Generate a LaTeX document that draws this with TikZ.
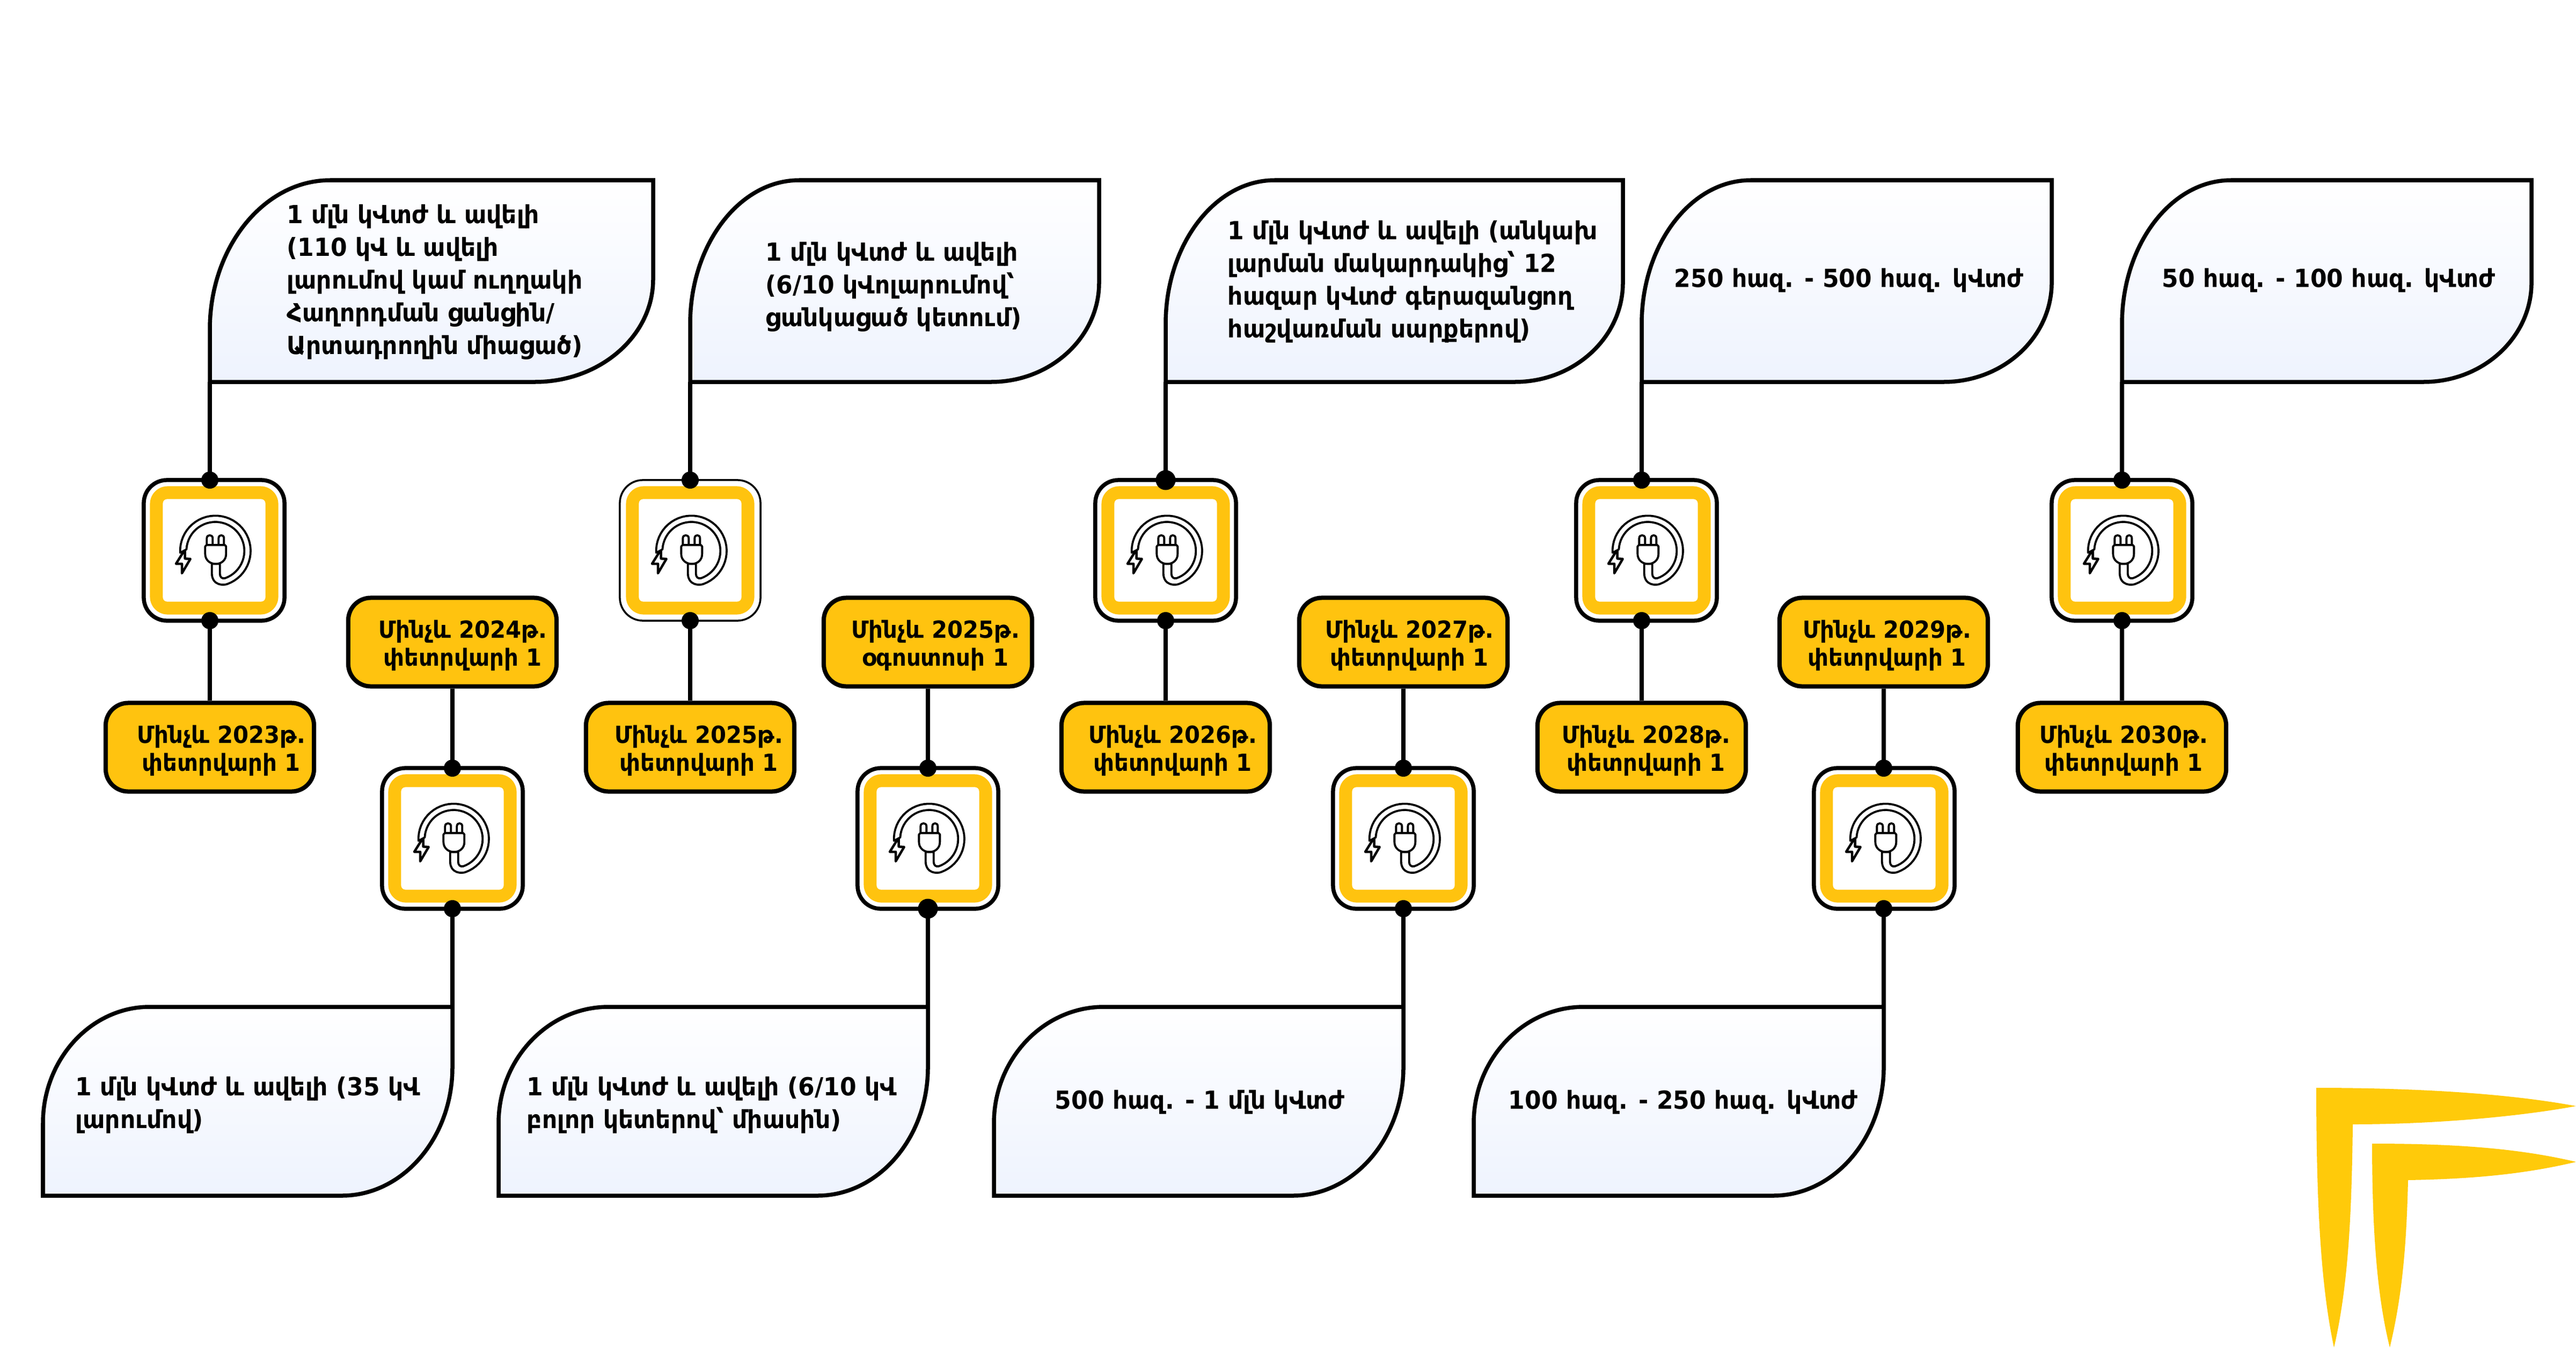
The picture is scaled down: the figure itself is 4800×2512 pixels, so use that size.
\documentclass[tikz,border=0pt]{standalone}
\usepackage{fontspec}
\setmainfont{DejaVu Sans}[FakeStretch=.95]
\usetikzlibrary{positioning}
\definecolor{cardyellow}{HTML}{FFC30F}
\definecolor{logoyellow}{HTML}{FFCA0A}
\definecolor{bubblefill}{HTML}{EEF3FE}
\tikzset{
 wire/.style={line width=.085cm},
 dotnode/.style={circle,fill=black,inner sep=0},
 cardbox/.style={draw,fill=white,rounded corners=.43cm,inner sep=0,minimum size=2.62cm},
 cardring/.style={fill=cardyellow,rounded corners=.33cm,inner sep=0,minimum size=2.39cm},
 cardhole/.style={fill=white,rounded corners=.08cm,inner sep=0,minimum size=1.91cm},
 datebox/.style={draw,line width=.08cm,fill=cardyellow,rounded corners=.42cm,inner sep=0,minimum width=3.88cm,minimum height=1.65cm},
 datetext/.style={font=\bfseries\fontsize{12.5pt}{14.75pt}\selectfont,align=center,inner sep=0},
 bubble/.style={draw,line width=.075cm,top color=white,bottom color=bubblefill},
 bubbletext/.style={font=\bfseries\fontsize{13.2pt}{17.3pt}\selectfont,align=left,anchor=base west,inner sep=0},
 iconline/.style={draw,line width=.038cm,line join=round,line cap=round},
 plugicon/.pic={
  \begin{scope}[scale=.3333]
  % cable
  \draw[iconline] plot[domain=177:430,samples=40] ({7+197*cos(\t)},{3+197*sin(\t)})
   .. controls (55,196) and (-13,200) .. (-13,125) -- (-13,76) -- (32,76) -- (32,130)
   .. controls (32,150) and (45,160) .. (60,156)
   -- plot[domain=431:183,samples=40] ({7+162*cos(\t)},{3+162*sin(\t)}) -- cycle;
  % plug
  \draw[iconline] (-42,-30) -- (60,-30) -- (67,-22) -- (67,20) .. controls (67,55) and (40,76) .. (9,76)
   .. controls (-22,76) and (-50,55) .. (-50,20) -- (-50,-22) -- cycle;
  \draw[iconline] (-41,-30) -- (-41,-68) .. controls (-41,-90) and (-8,-90) .. (-8,-68) -- (-8,-30);
  \draw[iconline] (25,-30) -- (25,-68) .. controls (25,-90) and (55,-90) .. (55,-68) -- (55,-30);
  % bolt
  \draw[iconline,line width=.045cm,fill=white] (-168,3) -- (-213,75) -- (-180,75) -- (-180,128) -- (-133,48) -- (-163,46) -- (-163,3) -- cycle;
  \end{scope}
 }
}
\begin{document}
\begin{tikzpicture}[x=.01cm,y=-.01cm,variable=\t]
 \useasboundingbox (0,0) rectangle (4800,2512);
 % bubbles
 \foreach \n/\xa/\xb/\ya/\yb/\rxa/\rya/\rxb/\ryb in {
  1/391/1217/336/712/224/278/220/191,
  3/1286/2048/336/712/203/268/201/185,
  5/2172/3024/336/712/203/268/201/185,
  7/3059/3823/336/712/203/268/201/185,
  9/3954/4717/336/712/203/268/201/185,
  2/80/843/1877/2229/199/217/206/239,
  4/929/1729/1877/2229/205/217/206/239,
  6/1852/2615/1877/2229/205/217/206/239,
  8/2746/3510/1877/2229/205/217/206/239} {
  \coordinate (sw\n) at (\xa,\yb);
  \coordinate (ne\n) at (\xb,\ya);
  \draw[bubble] (sw\n) -- (\xa,{\ya+\rya}) .. controls (\xa,{\ya+.45*\rya}) and ({\xa+.45*\rxa},\ya) .. ({\xa+\rxa},\ya)
   -- (ne\n) -- (\xb,{\yb-\ryb}) .. controls (\xb,{\yb-.45*\ryb}) and ({\xb-.45*\rxb},\yb) .. ({\xb-\rxb},\yb) -- cycle;
 }

 % bubble labels
 \node (l1) at (534,660) [bubbletext] {1 մլն կՎտժ և ավելի\\(110 կՎ և ավելի\\լարումով կամ ուղղակի\\Հաղորդման ցանցին/\\Արտադրողին միացած)};
 \node (l3) at (1426,608) [bubbletext] {1 մլն կՎտժ և ավելի\\(6/10 կՎոլարումով՝\\ցանկացած կետում)};
 \node (l5) at (2287,629) [bubbletext] {1 մլն կՎտժ և ավելի (անկախ\\լարման մակարդակից՝ 12\\հազար կՎտժ գերազանցող\\հաշվառման սարքերով)};
 \node (l7) at (3119,535) [bubbletext] {250 հազ. - 500 հազ. կՎտժ};
 \node (l9) at (4028,535) [bubbletext] {50 հազ. - 100 հազ. կՎտժ};
 \node (l2) at (140,2103) [bubbletext] {1 մլն կՎտժ և ավելի (35 կՎ\\լարումով)};
 \node (l4) at (981,2103) [bubbletext] {1 մլն կՎտժ և ավելի (6/10 կՎ\\բոլոր կետերով՝ միասին)};
 \node (l6) at (1965,2067) [bubbletext] {500 հազ. - 1 մլն կՎտժ};
 \node (l8) at (2810,2067) [bubbletext] {100 հազ. - 250 հազ. կՎտժ};

 % dates
 \foreach \n/\lx/\dy/\tx/\yr/\mon in {1/391/1393/21/2023/փետրվարի 1,3/1286/1393/16/2025/փետրվարի 1,5/2172/1393/13/2026/փետրվարի 1,
  7/3059/1393/8/2028/փետրվարի 1,9/3954/1393/3/2030/փետրվարի 1,2/843/1197/19/2024/փետրվարի 1,4/1729/1197/14/2025/օգոստոսի 1,
  6/2615/1197/11/2027/փետրվարի 1,8/3510/1197/6/2029/փետրվարի 1} {
  \node (date\n) at (\lx,\dy) [datebox] {};
  \node (dtext\n) at (\lx+\tx,\dy+6) [datetext] {Մինչև \yr թ.\\\mon};
 }

 % cards
 \foreach \n/\cx/\lx/\cy/\lw in {1/399/391/1026/.075,2/843/843/1563/.075,3/1286/1286/1026/.035,4/1729/1729/1563/.075,5/2172/2172/1026/.075,
  6/2615/2615/1563/.075,7/3068/3059/1026/.075,8/3511/3510/1563/.075,9/3954/3954/1026/.075} {
  \node (card\n) at (\cx,\cy) [cardbox,line width=\lw cm] {};
  \node (ring\n) at (\cx,\cy) [cardring] {};
  \node (hole\n) at (\cx,\cy) [cardhole] {};
  \pic at (\cx,\cy) {plugicon};
  \coordinate (top\n) at (\lx,\cy-131);
  \coordinate (bot\n) at (\lx,\cy+131);
 }

 % connectors
 \foreach \n in {1,3,5,7,9} {
  \draw[wire] (sw\n) -- (top\n);
  \draw[wire] (bot\n) -- (date\n.north);
 }
 \foreach \n in {2,4,6,8} {
  \draw[wire] (date\n.south) -- (top\n);
  \draw[wire] (bot\n) -- (ne\n);
 }
 \foreach \n/\st/\sb in {1/.32/.32,2/.32/.32,3/.32/.32,4/.32/.37,5/.37/.32,6/.32/.32,7/.32/.32,8/.32/.32,9/.32/.32} {
  \node (dt\n) at (top\n) [dotnode,minimum size=\st cm] {};
  \node (db\n) at (bot\n) [dotnode,minimum size=\sb cm] {};
 }

 % logo
 \fill[logoyellow] (4316,2028) .. controls (4480,2028) and (4660,2036) .. (4800,2062) .. controls (4680,2084) and (4520,2096) .. (4384,2096)
  .. controls (4382,2270) and (4375,2400) .. (4349,2512) .. controls (4325,2400) and (4316,2250) .. (4316,2028) -- cycle;
 \fill[logoyellow] (4420,2132) .. controls (4570,2132) and (4690,2140) .. (4800,2166) .. controls (4700,2190) and (4600,2198) .. (4487,2200)
  .. controls (4484,2330) and (4475,2420) .. (4453,2512) .. controls (4430,2420) and (4420,2300) .. (4420,2132) -- cycle;
\end{tikzpicture}
\end{document}
